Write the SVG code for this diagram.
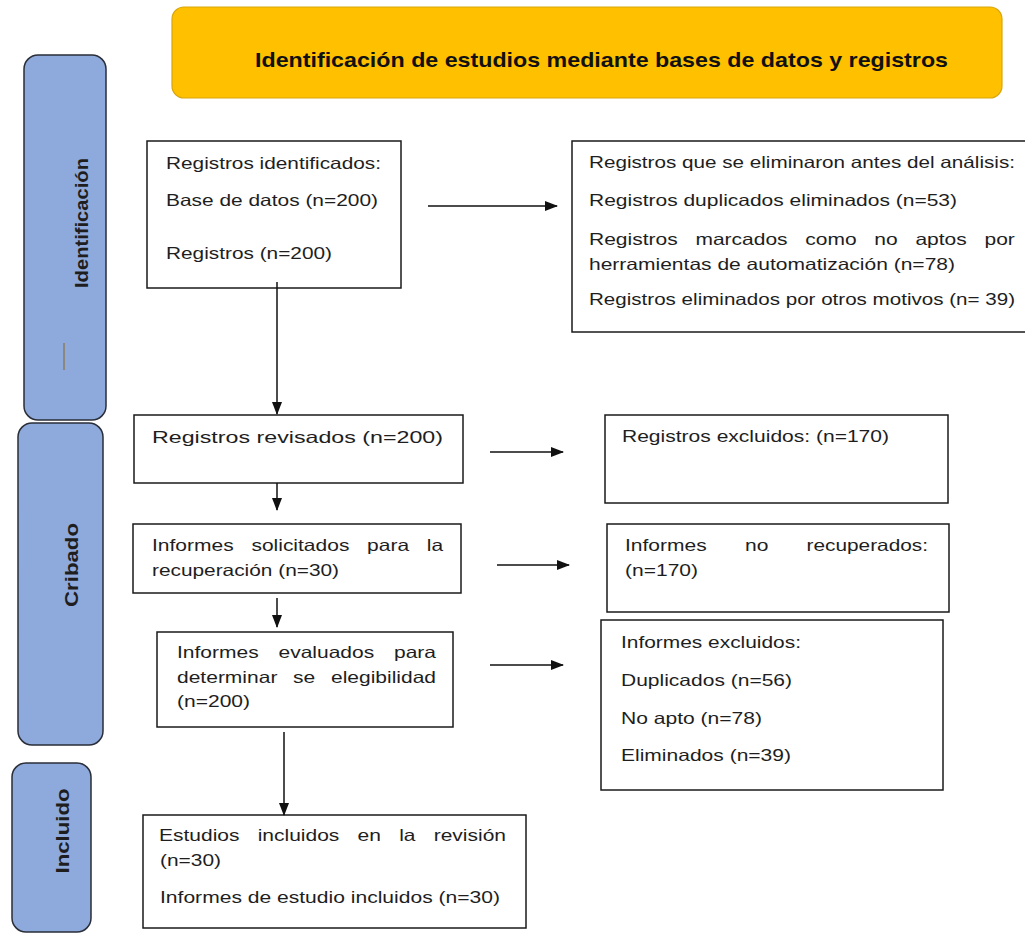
<svg xmlns="http://www.w3.org/2000/svg" width="1025" height="940" viewBox="0 0 1025 940">
<style>
.box{fill:#fff;stroke:#1a1a1a;stroke-width:1.5}
.side{fill:#8EA9DB;stroke:#2a2e38;stroke-width:1.5}
.t{font-family:"Liberation Sans",Arial,sans-serif;font-size:16.5px;fill:#1e1e1e}
.tb{font-family:"Liberation Sans",Arial,sans-serif;font-size:18px;font-weight:bold;fill:#1e1e1e}
.cn{stroke:#111;stroke-width:1.5;fill:none;marker-end:url(#ah)}
</style>
<defs>
<marker id="ah" markerUnits="userSpaceOnUse" markerWidth="13" markerHeight="10" refX="12" refY="5" orient="auto">
<path d="M0,0 L13,5 L0,10 z" fill="#111"/>
</marker>
</defs>
<rect width="1025" height="940" fill="#fff"/>

<g id="title">
<rect x="172" y="7" width="830" height="91" rx="12" fill="#FFC000" stroke="#D9A60A" stroke-width="1.2"/>
<text x="255" y="67" font-family="'Liberation Sans',Arial,sans-serif" font-size="21" font-weight="bold" fill="#111" textLength="693" lengthAdjust="spacingAndGlyphs">Identificación de estudios mediante bases de datos y registros</text>
</g>

<g id="side-identificacion">
<rect class="side" x="24" y="55" width="82" height="365" rx="14"/>
<text class="tb" x="82" y="223" text-anchor="middle" dominant-baseline="central" font-size="16" textLength="130" lengthAdjust="spacingAndGlyphs" transform="rotate(-90 82 223)">Identificación</text>
<line x1="64" y1="343" x2="64" y2="370" stroke="#8B7D60" stroke-width="1.5"/>
</g>
<g id="side-cribado">
<rect class="side" x="18" y="423" width="85" height="322" rx="14"/>
<text class="tb" x="72" y="565" text-anchor="middle" dominant-baseline="central" font-size="19" textLength="84" lengthAdjust="spacingAndGlyphs" transform="rotate(-90 72 565)">Cribado</text>
</g>
<g id="side-incluido">
<rect class="side" x="12" y="763" width="79" height="169" rx="14"/>
<text class="tb" x="63" y="831" text-anchor="middle" dominant-baseline="central" textLength="85" lengthAdjust="spacingAndGlyphs" transform="rotate(-90 63 831)">Incluido</text>
</g>

<g id="registros-identificados">
<rect class="box" x="147" y="141" width="254" height="147"/>
<text class="t" x="166" y="169" textLength="215" lengthAdjust="spacingAndGlyphs">Registros identificados:</text>
<text class="t" x="166" y="206" textLength="212" lengthAdjust="spacingAndGlyphs">Base de datos (n=200)</text>
<text class="t" x="166" y="259" textLength="166" lengthAdjust="spacingAndGlyphs">Registros (n=200)</text>
</g>

<g id="registros-eliminados">
<rect class="box" x="572" y="141" width="460" height="191"/>
<text class="t" x="589" y="168" textLength="426" lengthAdjust="spacingAndGlyphs">Registros que se eliminaron antes del análisis:</text>
<text class="t" x="589" y="206" textLength="368" lengthAdjust="spacingAndGlyphs">Registros duplicados eliminados (n=53)</text>
<text class="t" y="245"><tspan x="589" textLength="88.7" lengthAdjust="spacingAndGlyphs">Registros</tspan><tspan x="695.4" textLength="92.2" lengthAdjust="spacingAndGlyphs">marcados</tspan><tspan x="805.3" textLength="51.3" lengthAdjust="spacingAndGlyphs">como</tspan><tspan x="874.3" textLength="23.4" lengthAdjust="spacingAndGlyphs">no</tspan><tspan x="915.4" textLength="51.4" lengthAdjust="spacingAndGlyphs">aptos</tspan><tspan x="984.5" textLength="30.3" lengthAdjust="spacingAndGlyphs">por</tspan></text>
<text class="t" x="589" y="270" textLength="366" lengthAdjust="spacingAndGlyphs">herramientas de automatización (n=78)</text>
<text class="t" x="589" y="305" textLength="426" lengthAdjust="spacingAndGlyphs">Registros eliminados por otros motivos (n= 39)</text>
</g>

<g id="registros-revisados">
<rect class="box" x="134" y="415" width="329" height="68"/>
<text class="t" x="152" y="443" font-size="18.5" textLength="291" lengthAdjust="spacingAndGlyphs">Registros revisados (n=200)</text>
</g>

<g id="registros-excluidos">
<rect class="box" x="605" y="415" width="343" height="88"/>
<text class="t" x="622" y="442" textLength="267" lengthAdjust="spacingAndGlyphs">Registros excluidos: (n=170)</text>
</g>

<g id="informes-solicitados">
<rect class="box" x="133" y="524" width="328" height="69"/>
<text class="t" y="551"><tspan x="152" textLength="81.7" lengthAdjust="spacingAndGlyphs">Informes</tspan><tspan x="251.4" textLength="98" lengthAdjust="spacingAndGlyphs">solicitados</tspan><tspan x="367.1" textLength="42" lengthAdjust="spacingAndGlyphs">para</tspan><tspan x="426.8" textLength="16.3" lengthAdjust="spacingAndGlyphs">la</tspan></text>
<text class="t" x="152" y="576" textLength="187" lengthAdjust="spacingAndGlyphs">recuperación (n=30)</text>
</g>

<g id="informes-no-recuperados">
<rect class="box" x="607" y="524" width="342" height="88"/>
<text class="t" y="551"><tspan x="625" textLength="81.7" lengthAdjust="spacingAndGlyphs">Informes</tspan><tspan x="745" textLength="23.4" lengthAdjust="spacingAndGlyphs">no</tspan><tspan x="806.6" textLength="121.4" lengthAdjust="spacingAndGlyphs">recuperados:</tspan></text>
<text class="t" x="625" y="576" textLength="73" lengthAdjust="spacingAndGlyphs">(n=170)</text>
</g>

<g id="informes-evaluados">
<rect class="box" x="157" y="632" width="296" height="95"/>
<text class="t" y="658"><tspan x="177" textLength="81.7" lengthAdjust="spacingAndGlyphs">Informes</tspan><tspan x="278.5" textLength="95.7" lengthAdjust="spacingAndGlyphs">evaluados</tspan><tspan x="394" textLength="42" lengthAdjust="spacingAndGlyphs">para</tspan></text>
<text class="t" y="683"><tspan x="177" textLength="100.4" lengthAdjust="spacingAndGlyphs">determinar</tspan><tspan x="293.1" textLength="22.2" lengthAdjust="spacingAndGlyphs">se</tspan><tspan x="331" textLength="105" lengthAdjust="spacingAndGlyphs">elegibilidad</tspan></text>
<text class="t" x="177" y="707" textLength="73" lengthAdjust="spacingAndGlyphs">(n=200)</text>
</g>

<g id="informes-excluidos">
<rect class="box" x="601" y="620" width="342" height="170"/>
<text class="t" x="621" y="648" textLength="180" lengthAdjust="spacingAndGlyphs">Informes excluidos:</text>
<text class="t" x="621" y="686" textLength="171" lengthAdjust="spacingAndGlyphs">Duplicados (n=56)</text>
<text class="t" x="621" y="724" textLength="141" lengthAdjust="spacingAndGlyphs">No apto (n=78)</text>
<text class="t" x="621" y="761" textLength="170" lengthAdjust="spacingAndGlyphs">Eliminados (n=39)</text>
</g>

<g id="estudios-incluidos">
<rect class="box" x="143" y="815" width="383" height="113"/>
<text class="t" y="841"><tspan x="159" textLength="80.5" lengthAdjust="spacingAndGlyphs">Estudios</tspan><tspan x="257.7" textLength="81.7" lengthAdjust="spacingAndGlyphs">incluidos</tspan><tspan x="357.6" textLength="23.4" lengthAdjust="spacingAndGlyphs">en</tspan><tspan x="399.2" textLength="16.3" lengthAdjust="spacingAndGlyphs">la</tspan><tspan x="433.7" textLength="72.3" lengthAdjust="spacingAndGlyphs">revisión</tspan></text>
<text class="t" x="160" y="866" textLength="61" lengthAdjust="spacingAndGlyphs">(n=30)</text>
<text class="t" x="160" y="903" textLength="340" lengthAdjust="spacingAndGlyphs">Informes de estudio incluidos (n=30)</text>
</g>

<g id="connectors">
<line class="cn" x1="428" y1="206" x2="557" y2="206"/>
<line class="cn" x1="277" y1="282" x2="277" y2="414"/>
<line class="cn" x1="490" y1="452" x2="563" y2="452"/>
<line class="cn" x1="277" y1="483" x2="277" y2="510"/>
<line class="cn" x1="497" y1="565" x2="569" y2="565"/>
<line class="cn" x1="277" y1="598" x2="277" y2="627"/>
<line class="cn" x1="490" y1="665" x2="563" y2="665"/>
<line class="cn" x1="284" y1="732" x2="284" y2="815"/>
</g>
</svg>
